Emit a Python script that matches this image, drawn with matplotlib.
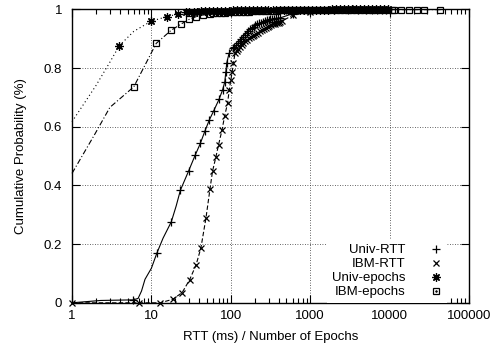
import numpy as np
import matplotlib
matplotlib.use('Agg')
from matplotlib import pyplot as plt
from matplotlib.legend_handler import HandlerTuple
from matplotlib.ticker import LogLocator, FixedLocator, FixedFormatter, NullLocator

# Univ-RTT (solid, +)
univ_rtt_x = [1, 2.3, 5.9, 6.8, 7.5, 8.3, 10, 11.7, 14, 17.8, 20.5, 23.2, 29.5, 35.7, 41.3,
              47.3, 53.6, 60.6, 71, 78.7, 84, 86.5, 89, 95, 105,
              111, 117, 123, 129, 136, 143, 150, 158, 166, 175, 184, 194, 204, 215, 227,
              240, 254, 268, 283, 299, 316, 334, 353, 373, 395, 420,
              600, 1000, 2000, 3500]
univ_rtt_y = [0.0, 0.008, 0.01, 0.015, 0.04, 0.08, 0.118, 0.169, 0.22, 0.276, 0.33, 0.384, 0.45, 0.504, 0.543,
              0.586, 0.623, 0.653, 0.693, 0.725, 0.753, 0.787, 0.818, 0.85, 0.867,
              0.872, 0.878, 0.885, 0.892, 0.9, 0.907, 0.914, 0.92, 0.926, 0.932, 0.937, 0.941, 0.945, 0.949, 0.952,
              0.955, 0.958, 0.96, 0.962, 0.964, 0.966, 0.967, 0.968, 0.969, 0.97, 0.971,
              0.985, 0.993, 0.998, 1.0]
univ_rtt_mark = [2, 7, 9, 11] + list(range(12, 55))

# IBM-RTT (dashed, x)
ibm_rtt_x = [1, 7.0, 12.9, 18.6, 24.4, 30.2, 36.5, 42, 48.7, 54.6, 58.8, 65, 70, 77.5, 83.5,
             91, 95.5, 100, 104, 108, 113,
             118, 124, 130, 137, 144, 152, 160, 169, 178, 188, 198, 209, 221, 233, 246,
             260, 275, 290, 306, 323, 341, 360, 380, 400, 420, 445,
             600, 1000, 2000, 4000]
ibm_rtt_y = [0.0, 0.0, 0.0, 0.012, 0.035, 0.078, 0.129, 0.187, 0.29, 0.387, 0.448, 0.498, 0.538, 0.589, 0.636,
             0.68, 0.725, 0.759, 0.787, 0.818, 0.85,
             0.858, 0.866, 0.873, 0.88, 0.886, 0.891, 0.896, 0.901, 0.905, 0.909, 0.913, 0.917, 0.921, 0.925, 0.929,
             0.933, 0.937, 0.94, 0.943, 0.946, 0.949, 0.951, 0.953, 0.955, 0.957, 0.96,
             0.98, 0.992, 0.998, 1.0]

# Univ-epochs (dotted, asterisk)
univ_ep_x = [1, 2, 3, 3.94, 6, 10, 15.7, 21.5, 27.4,
             30, 34, 38, 42, 47, 53, 60, 67, 75, 84, 94, 106, 119, 133, 150, 168, 188,
             211, 237, 266, 298, 335, 376, 422, 473, 531, 596, 668, 750, 841, 944,
             1059, 1189, 1334, 1496, 1679, 1884, 2113, 2371, 2661, 2985, 3350, 3758,
             4217, 4732, 5309, 5957, 6683, 7499, 8414, 9441]
univ_ep_y = [0.617, 0.74, 0.82, 0.876, 0.925, 0.96, 0.975, 0.984, 0.99,
             0.991, 0.992, 0.992, 0.993, 0.993, 0.994, 0.994, 0.994, 0.995, 0.995, 0.995, 0.996, 0.996, 0.996, 0.996, 0.997, 0.997,
             0.997, 0.997, 0.997, 0.998, 0.998, 0.998, 0.998, 0.998, 0.998, 0.999, 0.999, 0.999, 0.999, 0.999,
             0.999, 0.999, 0.999, 0.999, 0.999, 1.0, 1.0, 1.0, 1.0, 1.0, 1.0, 1.0,
             1.0, 1.0, 1.0, 1.0, 1.0, 1.0, 1.0, 1.0]
univ_ep_mark = [3] + list(range(5, 60))

# IBM-epochs (dash-dot, box)
ibm_ep_x = [1, 1.96, 3.0, 6.0, 11.5, 17.8, 23.7, 30, 36.5, 44, 54,
            60, 67, 75, 84, 94, 106, 119, 133, 150, 168, 188, 211, 237, 266, 298, 335,
            376, 422, 473, 531, 596, 668, 750, 841, 944, 1059, 1189, 1334, 1496, 1679,
            1884, 2113, 2371, 2661, 2985, 3350, 3758, 4217, 4732, 5309, 5957, 6683,
            7499, 8414, 9441, 10600, 11500, 14000, 17500, 22000, 27500, 43700]
ibm_ep_y = [0.441, 0.577, 0.666, 0.736, 0.884, 0.929, 0.95, 0.966, 0.975, 0.98, 0.985,
            0.986, 0.987, 0.988, 0.989, 0.99, 0.99, 0.991, 0.991, 0.992, 0.992, 0.993, 0.993, 0.994, 0.994, 0.995, 0.995,
            0.995, 0.996, 0.996, 0.996, 0.997, 0.997, 0.997, 0.997, 0.998, 0.998, 0.998, 0.998, 0.998, 0.998,
            0.999, 0.999, 0.999, 0.999, 0.999, 0.999, 0.999, 0.999, 0.999, 0.999, 0.999, 0.999,
            0.999, 0.999, 0.999, 0.999, 0.999, 0.999, 0.999, 0.999, 0.999, 0.999]
ibm_ep_mark = list(range(3, 63))

labels = ['Univ-RTT', 'IBM-RTT', 'Univ-epochs', 'IBM-epochs']
xtick_vals = [1, 10, 100, 1000, 10000, 100000]
xtick_labels = ['1', '10', '100', '1000', '10000', '100000']
ytick_vals = [0, 0.2, 0.4, 0.6, 0.8, 1]
ytick_labels = ['0', '0.2', '0.4', '0.6', '0.8', '1']

plt.rcParams.update({
    'font.family': ['Liberation Sans', 'DejaVu Sans'],
    'font.size': 9.5,
    'axes.linewidth': 1.0,
})

fig = plt.figure(figsize=(4.95, 3.45), dpi=100)
ax = fig.add_axes([0.1455, 0.1223, 0.802, 0.8507])

lw = 0.8
ax.plot(univ_rtt_x, univ_rtt_y, color='black', lw=lw, ls='-', marker='+', ms=5.5,
        mew=0.9, markevery=univ_rtt_mark, zorder=3, clip_on=False)
ax.plot(ibm_rtt_x, ibm_rtt_y, color='black', lw=lw, ls=(0, (4, 2)), marker='x', ms=4.5,
        mew=0.9, zorder=3, clip_on=False)
ax.plot(univ_ep_x, univ_ep_y, color='black', lw=lw, ls=(0, (1, 2.5)), marker=(8, 2, 0), ms=6,
        mew=0.9, markevery=univ_ep_mark, zorder=3, clip_on=False)
ax.plot(ibm_ep_x, ibm_ep_y, color='black', lw=lw, ls=(0, (5, 2, 1, 2)), marker='s', ms=5,
        mew=0.9, mfc='none', markevery=ibm_ep_mark, zorder=3, clip_on=False)

ax.set_xscale('log')
ax.set_xlim(1, 100000)
ax.set_ylim(0, 1)

ax.xaxis.set_major_locator(FixedLocator(xtick_vals))
ax.xaxis.set_major_formatter(FixedFormatter(xtick_labels))
ax.xaxis.set_minor_locator(LogLocator(base=10, subs=np.arange(2, 10), numticks=20))
ax.yaxis.set_major_locator(FixedLocator(ytick_vals))
ax.yaxis.set_major_formatter(FixedFormatter(ytick_labels))
ax.yaxis.set_minor_locator(NullLocator())

ax.tick_params(which='both', direction='in', top=True, right=True, width=0.8)
ax.tick_params(which='major', length=6)
ax.tick_params(axis='x', which='major', pad=5.5)
ax.tick_params(axis='y', which='major', pad=7)
ax.tick_params(which='minor', length=3.5)

ax.grid(True, which='major', color='#333333', ls=(0, (1, 2)), lw=0.6, zorder=1)

ax.set_xlabel('RTT (ms) / Number of Epochs', labelpad=6)
ax.set_ylabel('Cumulative Probability (%)', labelpad=12)

# legend: markers only, text right-aligned
h1 = plt.Line2D([], [], color='black', ls='none', marker='+', ms=5.5, mew=0.9)
h2 = plt.Line2D([], [], color='black', ls='none', marker='x', ms=4.5, mew=0.9)
h3 = plt.Line2D([], [], color='black', ls='none', marker=(8, 2, 0), ms=6, mew=0.9)
h4 = plt.Line2D([], [], color='black', ls='none', marker='s', ms=5, mew=0.9, mfc='none')
h4d = plt.Line2D([], [], color='black', ls='none', marker='o', ms=1.2, mew=0.5)
leg = ax.legend([h1, h2, h3, (h4, h4d)], labels, loc='lower right',
                bbox_to_anchor=(0.945, 0.0), borderaxespad=0.0, markerfirst=False,
                handlelength=1.0, handletextpad=1.8, labelspacing=0.13, borderpad=0.35,
                frameon=True, fancybox=False, edgecolor='none', facecolor='white', framealpha=1.0,
                handler_map={tuple: HandlerTuple(ndivide=1)})
leg.set_zorder(5)

fig.savefig('out.png', dpi=100)
